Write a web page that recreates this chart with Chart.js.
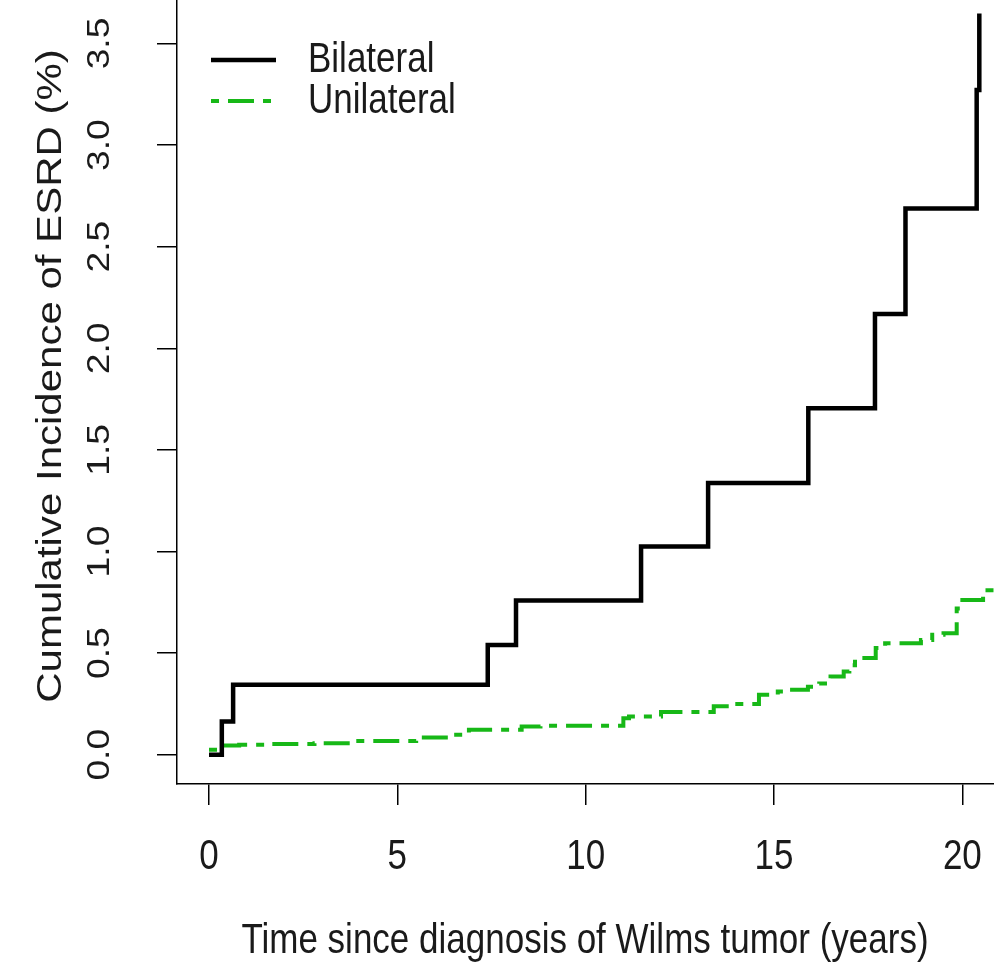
<!DOCTYPE html>
<html>
<head>
<meta charset="utf-8">
<script src="https://cdn.jsdelivr.net/npm/chart.js@4.4.1/dist/chart.umd.min.js"></script>
<style>
  html, body { margin: 0; padding: 0; background: #ffffff; }
  #wrap { width: 994px; height: 963px; position: relative; }
</style>
</head>
<body>
<div id="wrap"><canvas id="cif" width="994" height="963"></canvas></div>
<script>
// Cumulative incidence of ESRD (%), step functions: [time in years, value after the event]
const bilateralTimes  = [0, 0.34, 0.64, 7.40, 8.15, 11.47, 13.25, 15.91, 17.68, 18.49, 20.38, 20.45];
const bilateralValues = [0, 0.164, 0.344, 0.540, 0.759, 1.025, 1.337, 1.705, 2.169, 2.688, 3.271, 3.648];

const unilateralTimes  = [0, 0.25, 0.8, 1.5, 2.8, 3.9, 5.5, 6.5, 6.9, 8.3, 8.8, 11.0, 11.15, 12.0, 13.4, 13.85,
                          14.6, 15.1, 15.35, 15.9, 16.2, 16.5, 16.85, 17.0, 17.15, 17.7, 17.95, 18.9, 19.2, 19.5,
                          19.85, 20.0, 20.55, 20.9];
const unilateralValues = [0.025, 0.045, 0.049, 0.053, 0.056, 0.068, 0.085, 0.098, 0.123, 0.139, 0.143, 0.180, 0.188, 0.210, 0.238, 0.250,
                          0.295, 0.311, 0.320, 0.335, 0.350, 0.385, 0.410, 0.440, 0.476, 0.525, 0.549, 0.565, 0.590, 0.598,
                          0.720, 0.762, 0.810, 0.810];

const xTickValues = [0, 5, 10, 15, 20];
const yTickValues = [0, 0.5, 1.0, 1.5, 2.0, 2.5, 3.0, 3.5];
const yTickLabels = ['0.0', '0.5', '1.0', '1.5', '2.0', '2.5', '3.0', '3.5'];
const seriesNames = ['Bilateral', 'Unilateral'];
const xTitle = 'Time since diagnosis of Wilms tumor (years)';
const yTitle = 'Cumulative Incidence of ESRD (%)';

const FONT = '"Liberation Sans", Arial, sans-serif';
const STRETCH = 1.2;      // glyphs are drawn taller than they are wide
const TEXT_COLOR = '#1a1a1a';
const GREEN = '#17b817';
const GREEN_DASH = [8, 9, 26, 9];

const toPoints = (ts, vs) => ts.map((t, i) => ({ x: t, y: vs[i] }));

function drawText(ctx, text, x, y, angle, align, px) {
  ctx.save();
  ctx.translate(x, y);
  ctx.scale(1, STRETCH);
  ctx.rotate(angle);
  ctx.font = px + 'px ' + FONT;
  ctx.fillStyle = TEXT_COLOR;
  ctx.textAlign = align;
  ctx.textBaseline = 'middle';
  ctx.fillText(text, 0, 0);
  ctx.restore();
}

// Tick labels, axis titles and the legend
const textPlugin = {
  id: 'rText',
  afterDraw(chart) {
    const ctx = chart.ctx;
    const xs = chart.scales.x, ys = chart.scales.y;
    xTickValues.forEach(v => {
      drawText(ctx, String(v), xs.getPixelForValue(v), 857, 0, 'center', 35);
    });
    yTickValues.forEach((v, i) => {
      drawText(ctx, yTickLabels[i], 100, ys.getPixelForValue(v), -Math.PI / 2, 'center', 31);
    });
    drawText(ctx, xTitle, 585, 941, 0, 'center', 35);
    drawText(ctx, yTitle, 51, 376, -Math.PI / 2, 'center', 35);

    // legend
    const ds = chart.data.datasets;
    const rows = [60, 101];
    ds.forEach((d, i) => {
      ctx.save();
      ctx.strokeStyle = d.borderColor;
      ctx.lineWidth = d.borderWidth;
      ctx.setLineDash(d.borderDash || []);
      ctx.beginPath();
      ctx.moveTo(211, rows[i]);
      ctx.lineTo(276, rows[i]);
      ctx.stroke();
      ctx.restore();
      drawText(ctx, seriesNames[i], 308, rows[i], 0, 'left', 35);
    });
  }
};

new Chart(document.getElementById('cif'), {
  type: 'line',
  data: {
    datasets: [
      {
        label: seriesNames[0],
        data: toPoints(bilateralTimes, bilateralValues),
        borderColor: '#000000',
        borderWidth: 4.5,
        stepped: 'before',
        pointRadius: 0,
        fill: false
      },
      {
        label: seriesNames[1],
        data: toPoints(unilateralTimes, unilateralValues),
        borderColor: GREEN,
        borderWidth: 4,
        borderDash: GREEN_DASH,
        stepped: 'before',
        pointRadius: 0,
        fill: false
      }
    ]
  },
  options: {
    responsive: false,
    animation: false,
    devicePixelRatio: 1,
    layout: { padding: 0 },
    plugins: { legend: { display: false }, tooltip: { enabled: false } },
    scales: {
      x: {
        type: 'linear',
        min: -0.85,
        max: 20.84,
        afterBuildTicks: s => { s.ticks = xTickValues.map(v => ({ value: v })); },
        afterFit: s => { s.height = 179; },
        ticks: { display: false },
        grid: { display: true, drawOnChartArea: false, drawTicks: true, tickLength: 21, color: '#000', lineWidth: 1.5 },
        border: { display: true, color: '#000', width: 1.5 }
      },
      y: {
        type: 'linear',
        min: -0.144,
        max: 3.714,
        afterBuildTicks: s => { s.ticks = yTickValues.map(v => ({ value: v })); },
        afterFit: s => { s.width = 177; },
        ticks: { display: false },
        grid: { display: true, drawOnChartArea: false, drawTicks: true, tickLength: 20, color: '#000', lineWidth: 1.5 },
        border: { display: true, color: '#000', width: 1.5 }
      }
    }
  },
  plugins: [textPlugin]
});
</script>
</body>
</html>
